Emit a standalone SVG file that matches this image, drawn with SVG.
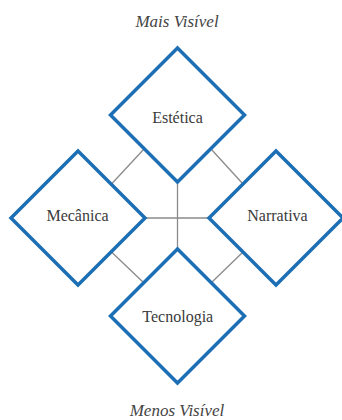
<svg xmlns="http://www.w3.org/2000/svg" width="342" height="420" viewBox="0 0 342 420">
<style>
.d{fill:#fff;stroke:#1c6fb4;stroke-width:3.5;stroke-linejoin:miter}
.c{stroke:#8a8a8a;stroke-width:1.3;fill:none}
.t{font-family:"Liberation Serif","Times New Roman",serif;font-size:16px;fill:#3a3a3a;text-anchor:middle}
.h{font-family:"Liberation Serif","Times New Roman",serif;font-size:17px;font-style:italic;fill:#444;text-anchor:middle}
</style>
<defs>
<polygon id="dm" points="0,-67 67,0 0,67 -67,0"/>
</defs>
<rect width="342" height="420" fill="#fff"/>
<g id="connectors">
<line class="c" x1="177.5" y1="182" x2="177.5" y2="249"/>
<line class="c" x1="145" y1="218" x2="210" y2="218"/>
<line class="c" x1="144" y1="149" x2="111.5" y2="184"/>
<line class="c" x1="211" y1="149" x2="243" y2="184"/>
<line class="c" x1="111.5" y1="252" x2="144" y2="283"/>
<line class="c" x1="243" y1="252" x2="211" y2="283"/>
</g>
<text class="h" x="177" y="27">Mais Visível</text>
<g id="estetica">
<use href="#dm" class="d" x="177.5" y="115"/>
<text class="t" x="177.5" y="123">Estética</text>
</g>
<g id="mecanica">
<use href="#dm" class="d" x="78" y="218"/>
<text class="t" x="77.5" y="221">Mecânica</text>
</g>
<g id="narrativa">
<use href="#dm" class="d" x="276" y="218"/>
<text class="t" x="277.5" y="221">Narrativa</text>
</g>
<g id="tecnologia">
<use href="#dm" class="d" x="177.5" y="316"/>
<text class="t" x="177.8" y="321.5">Tecnologia</text>
</g>
<text class="h" x="177" y="416">Menos Visível</text>
</svg>
